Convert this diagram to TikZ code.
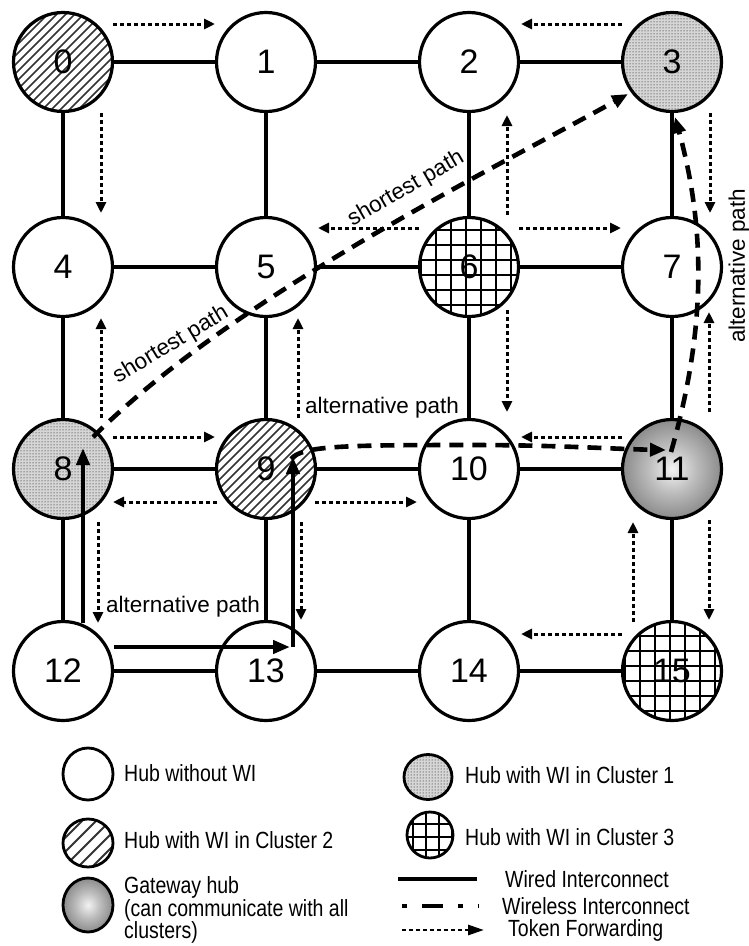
\documentclass[tikz,border=0pt]{standalone}
\usepackage{fontspec}
\setmainfont{Liberation Sans}
\usetikzlibrary{arrows.meta,patterns,shapes.geometric}
\pgfdeclareradialshading{gwshade}{\pgfpoint{0bp}{0bp}}{color(0bp)=(black!5); color(12bp)=(black!26); color(32bp)=(black!56); color(50bp)=(black!78)}
\begin{document}
\begin{tikzpicture}[x=1pt,y=-1pt,
  hub/.style={circle, draw, line width=3.2pt, minimum size=99pt, inner sep=0pt, font=\fontsize{34}{38}\selectfont},
  plain/.style={hub, fill=white},
  hatchfill/.style 2 args={path picture={\foreach \k in {-16,...,16}{\draw[line width=#2, black!80] ([shift={(\k*#1,0)}]path picture bounding box.center) ++(-90,90) -- ++(180,-180);}}},
  gridfill/.style n args={4}{path picture={\foreach \k in {-8,...,8}{\draw[line width=#4] ([shift={(\k*#1+#2,-70)}]path picture bounding box.center) -- ++(0,140); \draw[line width=#4] ([shift={(-70,\k*#1+#3)}]path picture bounding box.center) -- ++(140,0);}}},
  dotfill/.style={preaction={fill=black!16}, pattern=dots, pattern color=black},
  gateway/.style={shade, shading=gwshade},
  wire/.style={line width=3.1pt},
  token/.style={line width=3pt, dash pattern=on 4pt off 3pt, -{Triangle[length=11pt,width=10pt]}},
  wless/.style={line width=4.6pt, dash pattern=on 14pt off 9pt, -{Triangle[length=16pt,width=13pt]}},
  solidarrow/.style={line width=4.2pt, -{Triangle[length=17pt,width=13pt]}},
  lbl/.style={font=\fontsize{22.5}{26}\selectfont, inner sep=0pt},
  legell/.style={ellipse, draw, line width=2.8pt, inner sep=0pt},
  legtext/.style={font=\fontsize{19.5}{18.5}\selectfont, inner sep=0pt, anchor=west, align=left, yscale=1.2}
]
\useasboundingbox (0,0) rectangle (748,946);

% hubs
\node[hub, fill=white, hatchfill={9}{1.7pt}] (n0) at (63,62) {0};
\node[plain] (n1) at (266,62) {1};
\node[plain] (n2) at (469,62) {2};
\node[hub, dotfill] (n3) at (672,62) {3};
\node[plain] (n4) at (63,267) {4};
\node[plain] (n5) at (266,267) {5};
\node[hub, fill=white, gridfill={15}{-3}{-7}{1.4pt}] (n6) at (469,267) {6};
\node[plain] (n7) at (672,267) {7};
\node[hub, dotfill] (n8) at (63,469) {8};
\node[hub, fill=white, hatchfill={9}{1.7pt}] (n9) at (266,469) {9};
\node[plain] (n10) at (469,469) {10};
\node[hub, gateway] (n11) at (672,469) {11};
\node[plain] (n12) at (63,671) {12};
\node[plain] (n13) at (266,671) {13};
\node[plain] (n14) at (469,671) {14};
\node[hub, fill=white, gridfill={15}{-2}{-5}{1.4pt}] (n15) at (672,671) {15};

% wired interconnects
\foreach \a/\b in {n0/n1,n1/n2,n2/n3,n4/n5,n5/n6,n6/n7,n8/n9,n9/n10,n10/n11,n12/n13,n13/n14,n14/n15,
                   n0/n4,n4/n8,n8/n12,n1/n5,n5/n9,n9/n13,n2/n6,n6/n10,n10/n14,n3/n7,n7/n11,n11/n15}
  \draw[wire] (\a) -- (\b);

% token forwarding
\draw[token] ([shift={(50,-38)}]n0.center) -- ([shift={(-51,-38)}]n1.center);
\draw[token] ([shift={(-50,-38)}]n3.center) -- ([shift={(52,-38)}]n2.center);
\draw[token] ([shift={(38,51)}]n0.center) -- ([shift={(38,-54)}]n4.center);
\draw[token] ([shift={(38,51)}]n3.center) -- ([shift={(38,-54)}]n7.center);
\draw[token] ([shift={(38,-52)}]n6.center) -- ([shift={(38,53)}]n2.center);
\draw[token] ([shift={(-50,-39)}]n6.center) -- ([shift={(52,-39)}]n5.center);
\draw[token] ([shift={(50,-39)}]n6.center) -- ([shift={(-51,-39)}]n7.center);
\draw[token] ([shift={(38,43)}]n6.center) -- ([shift={(38,-57)}]n10.center);
\draw[token] ([shift={(38,-51)}]n8.center) -- ([shift={(38,51)}]n4.center);
\draw[token] ([shift={(32,-51)}]n9.center) -- ([shift={(32,51)}]n5.center);
\draw[token] ([shift={(50,-32)}]n8.center) -- ([shift={(-51,-32)}]n9.center);
\draw[token] ([shift={(-49,33)}]n9.center) -- ([shift={(50,33)}]n8.center);
\draw[token] ([shift={(49,33)}]n9.center) -- ([shift={(-52,33)}]n10.center);
\draw[token] ([shift={(-50,-32)}]n11.center) -- ([shift={(52,-32)}]n10.center);
\draw[token] ([shift={(37,-57)}]n11.center) -- ([shift={(37,45)}]n7.center);
\draw[token] ([shift={(37,51)}]n11.center) -- ([shift={(37,-51)}]n15.center);
\draw[token] ([shift={(-39,-49)}]n15.center) -- ([shift={(-39,53)}]n11.center);
\draw[token] ([shift={(-50,-37)}]n15.center) -- ([shift={(52,-37)}]n14.center);
\draw[token] ([shift={(35,53)}]n8.center) -- ([shift={(35,-48)}]n12.center);
\draw[token] ([shift={(35,53)}]n9.center) -- ([shift={(35,-51)}]n13.center);

% alternative wired path
\draw[solidarrow] ([shift={(20,-48)}]n12.center) -- ([shift={(20,-21)}]n8.center);
\draw[solidarrow] ([shift={(51,-24)}]n12.center) -- ([shift={(24,-24)}]n13.center);
\draw[solidarrow] ([shift={(27,-24)}]n13.center) -- ([shift={(27,-12)}]n9.center);

% wireless paths
\draw[wless] ([shift={(30,-32)}]n8.center) .. controls ([shift={(171,-173)}]n8.center) and ([shift={(-175,105)}]n3.center) .. ([shift={(-44,32)}]n3.center);
\draw[wless] ([shift={(25,-10)}]n9.center) .. controls ([shift={(36,-23)}]n9.center) and ([shift={(74,-24)}]n9.center) .. ([shift={(0,-24)}]n10.center)
  .. controls ([shift={(90,-24)}]n10.center) and ([shift={(-60,-20)}]n11.center) .. ([shift={(-6,-19)}]n11.center);
\draw[wless] ([shift={(-1,-17)}]n11.center) .. controls ([shift={(34,-139)}]n11.center) and ([shift={(34,-37)}]n7.center) .. ([shift={(3,55)}]n3.center);

% labels
\node[lbl, rotate=30] (sp1) at (406,189) {shortest path};
\node[lbl, rotate=31] (sp2) at (171,345) {shortest path};
\node[lbl] (ap1) at (382,408) {alternative path};
\node[lbl] (ap2) at (183,607) {alternative path};
\node[lbl, rotate=90] (ap3) at (739,266) {alternative path};

% legend
\node[legell, fill=white, minimum width=50pt, minimum height=52pt] (l0) at (88,774) {};
\node[legtext] (t0) at (124,773) {Hub without WI};
\node[legell, fill=white, hatchfill={14}{1.8pt}, minimum width=50pt, minimum height=48pt] (l1) at (88,843) {};
\node[legtext] (t1) at (124,840) {Hub with WI in Cluster 2};
\node[legell, gateway, minimum width=50pt, minimum height=54pt] (l2) at (88,905) {};
\node[legtext] (t2) at (124,910) {Gateway hub\\(can communicate with all\\clusters)};
\node[legell, dotfill, minimum width=48pt, minimum height=45pt] (l3) at (428,777) {};
\node[legtext] (t3) at (465,775) {Hub with WI in Cluster 1};
\node[legell, fill=white, gridfill={13}{-4}{2}{2.1pt}, minimum width=46pt, minimum height=46pt] (l4) at (430,835) {};
\node[legtext] (t4) at (465,837) {Hub with WI in Cluster 3};
\coordinate (w1) at (398,879); \coordinate (w2) at (477,879);
\draw[line width=3.4pt] (w1) -- (w2);
\node[legtext] (t5) at (505,879) {Wired Interconnect};
\coordinate (r1) at (402,906); \coordinate (r2) at (479,906);
\draw[line width=3.6pt, dash pattern=on 5pt off 15pt on 21pt off 15pt] (r1) -- (r2);
\node[legtext] (t6) at (502,906) {Wireless Interconnect};
\coordinate (k1) at (402,930); \coordinate (k2) at (484,930);
\draw[line width=2.8pt, dash pattern=on 4pt off 3pt, -{Triangle[length=16pt,width=10pt]}] (k1) -- (k2);
\node[legtext] (t7) at (508,930) {Token Forwarding};
\end{tikzpicture}
\end{document}
